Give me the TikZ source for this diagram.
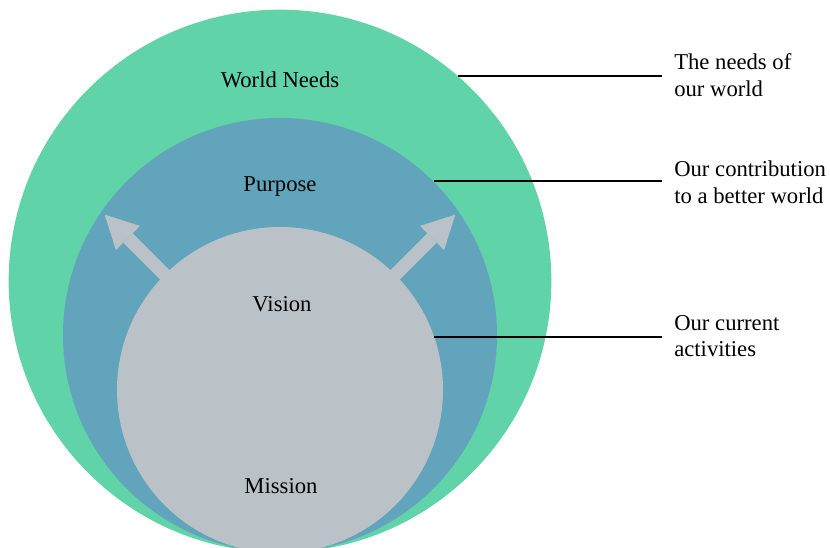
\documentclass[tikz,border=0pt]{standalone}
\usepackage{fontspec}
\setmainfont{Liberation Serif}
\usetikzlibrary{arrows.meta}
\definecolor{worldgreen}{RGB}{96,211,168}
\definecolor{purposeblue}{RGB}{98,164,187}
\definecolor{missiongrey}{RGB}{186,194,200}

\begin{document}
\begin{tikzpicture}[x=0.75pt,y=0.75pt,
font=\fontsize{17}{20}\selectfont]
\tikzstyle{ring}=[circle,draw=none,inner sep=0pt]
\tikzstyle{note}=[anchor=west,align=left,inner xsep=9pt,inner ysep=0pt]
\tikzstyle{leader}=[draw=black,line width=1.5pt]
\tikzstyle{reach}=[draw=missiongrey,line width=10pt,
  -{Triangle[width=25.5pt,length=24.75pt,line width=0pt]}]

\clip (0,0) rectangle (830,547);

% nested circles, widest first
\node[ring,fill=worldgreen,minimum size=407pt]    (world)   at (280,266) {};
\node[ring,fill=purposeblue,minimum size=325.5pt] (purpose) at (280,212) {};

% the two arrows start under the inner circle
\coordinate (core) at (280,157);
\coordinate (tipL) at ([shift={(135:248)}]core);
\coordinate (tipR) at ([shift={(45:248)}]core);
\draw[reach] (core) -- (tipL);
\draw[reach] (core) -- (tipR);
\node[ring,fill=missiongrey,minimum size=244.5pt] (vision) at (core) {};

\node[anchor=base] (worldtxt)   at (280,459) {World Needs};
\node[anchor=base] (purposetxt) at (280,356) {Purpose};
\node[anchor=base] (visiontxt)  at (282,236) {Vision};
\node[anchor=base] (missiontxt) at (281,54)  {Mission};

\node[note] (needs)   at (662,472) {The needs of\\our world};
\node[note] (contrib) at (662,365) {Our contribution\\to a better world};
\node[note] (current) at (662,211) {Our current\\activities};

\draw[leader] (world.49.4) -- (world.49.4 -| needs.west);
\draw[leader] (purpose.45) -- (purpose.45 -| contrib.west);
\draw[leader] (vision.19.3) -- (vision.19.3 -| current.west);
\end{tikzpicture}
\end{document}
